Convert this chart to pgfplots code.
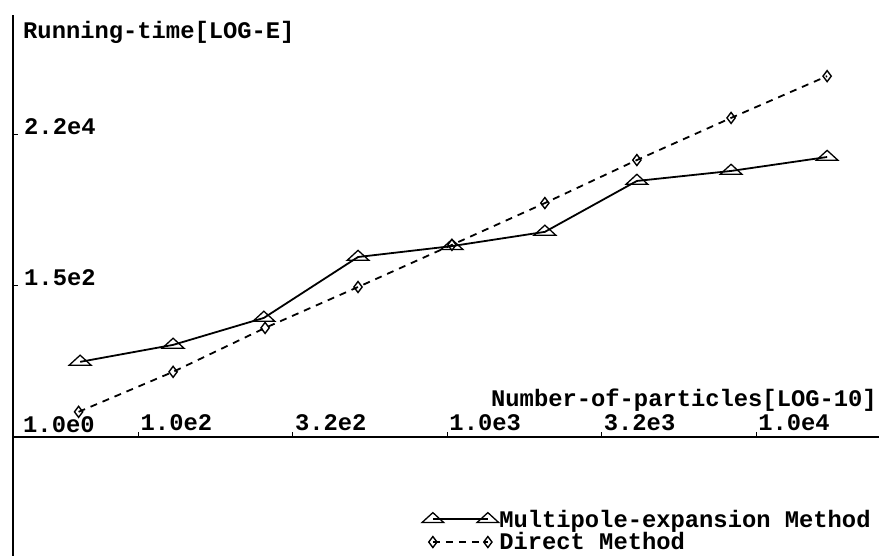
\documentclass[border=0pt]{standalone}
\usepackage{fontspec}
\setmainfont{Liberation Mono}
\usepackage{pgfplots}
\pgfplotsset{compat=1.18}
\newfontfamily\cf{Liberation Mono}
\newcommand\lf{\cf\bfseries\fontsize{23.8pt}{25pt}\selectfont}

\begin{document}
\begin{tikzpicture}
\useasboundingbox (0,0) rectangle (879pt,556pt);
\begin{axis}[
  at={(13pt,0pt)}, anchor=south west,
  scale only axis, width=866pt, height=541pt,
  xmin=1.5936, xmax=4.398, ymin=-3.927, ymax=13.927,
  axis x line=middle, axis y line=left,
  axis line style={-, black},
  x axis line style={line width=1.6pt},
  y axis line style={line width=2.6pt},
  xtick={2,2.5,3,3.5,4}, xticklabels={1.0e2,3.2e2,1.0e3,3.2e3,1.0e4},
  ytick={5.011,9.999}, yticklabels={1.5e2,2.2e4},
  /pgf/number format/assume math mode=true,
  tick align=inside, major tick length=5pt, tick style={line width=1pt, black},
  ticklabel style={font=\lf, inner sep=0pt},
  xticklabel style={anchor=base west, yshift=7pt, xshift=2pt},
  yticklabel style={anchor=base west, xshift=11pt},
  xlabel={Number-of-particles[LOG-10]},
  ylabel={Running-time[LOG-E]},
  every axis x label/.style={at={(axis description cs:1,0.21995)}, anchor=base east, yshift=30pt, xshift=-2pt, font=\lf, inner sep=0pt},
  every axis y label/.style={at={(axis description cs:0,1)}, anchor=north west, xshift=10pt, yshift=-6pt, font=\lf, inner sep=0pt},
  clip=false,
  legend style={at={(axis description cs:0.472,0.0865)}, anchor=north west, draw=none, fill=none, inner sep=0pt, font=\lf, row sep=3pt, cells={anchor=west}, nodes={inner sep=0.5pt}},
  legend image code/.code={\draw[#1, mark repeat=1] plot coordinates {(0pt,0pt) (55pt,0pt)};},
]
\addplot[black, line width=1.8pt, mark=triangle, mark size=7pt,
  mark options={solid, line width=1.3pt, xscale=1.8, yscale=0.95, fill=white}]
  coordinates {(1.811,2.48) (2.112,3.04) (2.406,3.93) (2.711,5.94) (3.015,6.30) (3.316,6.77) (3.614,8.45) (3.919,8.78) (4.230,9.24)};
\addlegendentry{Multipole-expansion Method}
\addplot[black, line width=1.8pt, dash pattern=on 7pt off 6pt, mark=diamond, mark size=5.5pt,
  mark options={solid, line width=1.4pt, fill=white}]
  coordinates {(1.806,0.83) (2.112,2.15) (2.410,3.60) (2.711,4.95) (3.015,6.34) (3.316,7.72) (3.614,9.14) (3.919,10.53) (4.230,11.91)};
\addlegendentry{Direct Method}
\node[font=\lf, inner sep=0pt, anchor=base west] at (axis cs:1.5936,0) [xshift=10pt, yshift=4pt] {1.0e0};
\end{axis}
\end{tikzpicture}
\end{document}
